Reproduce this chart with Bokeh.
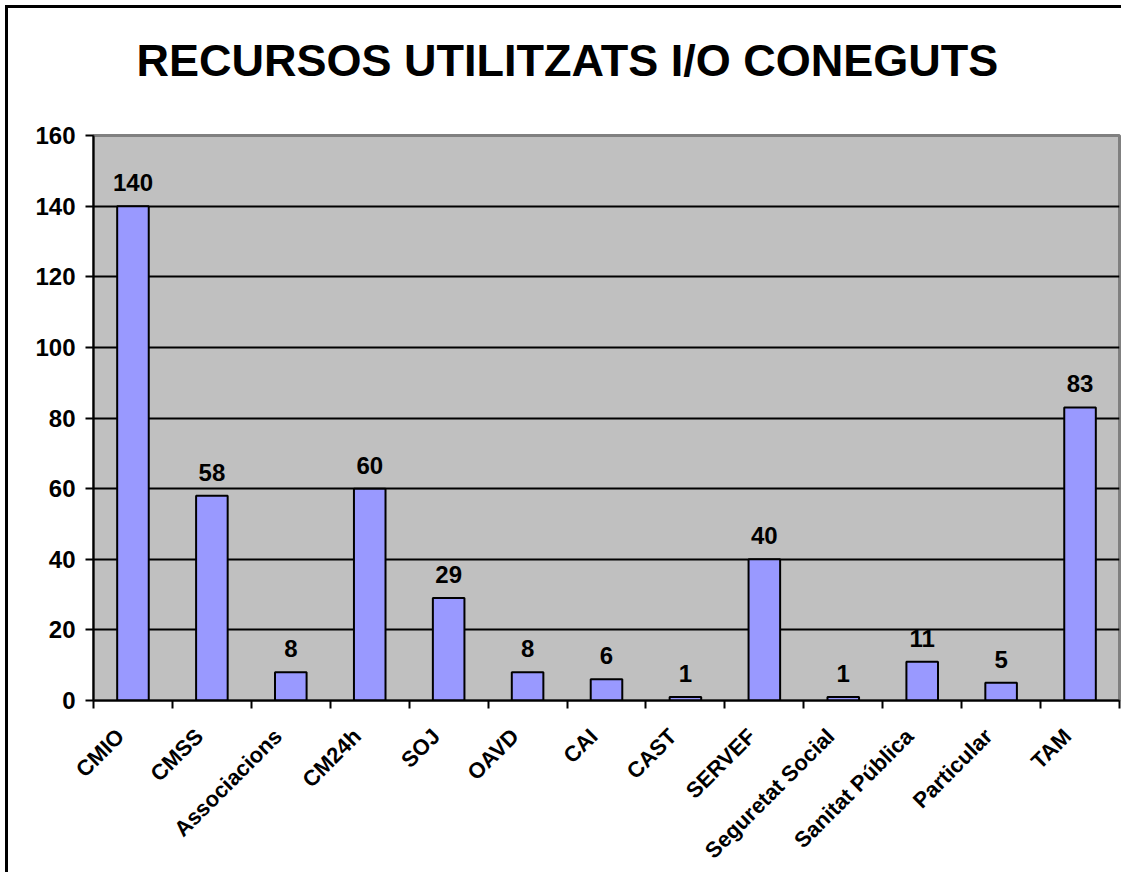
import math
from bokeh.plotting import figure
from bokeh.models import FixedTicker, Title, ColumnDataSource, Range1d
from bokeh.core.properties import value
from bokeh.embed import file_html
from bokeh.resources import INLINE

categories = ["CMIO", "CMSS", "Associacions", "CM24h", "SOJ", "OAVD", "CAI",
              "CAST", "SERVEF", "Seguretat Social", "Sanitat Pública", "Particular", "TAM"]
counts = [140, 58, 8, 60, 29, 8, 6, 1, 40, 1, 11, 5, 83]
y_ticks = [0, 20, 40, 60, 80, 100, 120, 140, 160]
title_text = "RECURSOS UTILITZATS I/O CONEGUTS"

FONT = "Liberation Sans"
FS = "24px"
n = len(categories)
centers = [i + 0.5 for i in range(n)]
label_pos = [c - 0.16 for c in centers]
bounds = [float(i) for i in range(n + 1)]

p = figure(width=1116, height=867, output_backend="svg", toolbar_location=None,
           x_range=Range1d(0, n), y_range=Range1d(0, 160),
           min_border_left=85, min_border_right=5, min_border_top=127, min_border_bottom=169)
p.styles = {"border-left": "3px solid black", "border-top": "3px solid black",
            "margin-left": "5px", "margin-top": "5px"}
p.title = None

p.background_fill_color = "#C0C0C0"
p.border_fill_color = "white"
p.outline_line_color = "#808080"
p.outline_line_width = 3

src = ColumnDataSource(dict(x=centers, top=counts, lab=[str(c) for c in counts]))
p.vbar(x="x", top="top", width=0.4, source=src, fill_color="#9999FF",
       line_color="black", line_width=2)
p.text(x="x", y="top", text="lab", source=src, y_offset=-15,
       text_align="center", text_baseline="bottom",
       text_font=value(FONT), text_font_style="bold", text_font_size=FS, text_color="black")

# y axis
p.yaxis.ticker = FixedTicker(ticks=y_ticks)
p.yaxis.axis_line_color = "black"
p.yaxis.axis_line_width = 2
p.yaxis.major_tick_line_color = "black"
p.yaxis.major_tick_line_width = 2
p.yaxis.major_tick_out = 8
p.yaxis.major_tick_in = 0
p.yaxis.minor_tick_line_color = None
p.yaxis.major_label_standoff = 10
p.yaxis.major_label_text_font = FONT
p.yaxis.major_label_text_font_style = "bold"
p.yaxis.major_label_text_font_size = FS
p.yaxis.major_label_text_color = "black"

# x axis
p.xaxis.ticker = FixedTicker(ticks=label_pos, minor_ticks=bounds)
p.xaxis.major_label_overrides = {c: lab for c, lab in zip(label_pos, categories)}
p.xaxis.major_tick_line_color = None
p.xaxis.minor_tick_line_color = "black"
p.xaxis.minor_tick_line_width = 2
p.xaxis.minor_tick_out = 8
p.xaxis.minor_tick_in = 0
p.xaxis.axis_line_color = "black"
p.xaxis.axis_line_width = 2
p.xaxis.major_label_orientation = math.pi / 4
p.xaxis.major_label_standoff = 24
p.xaxis.major_label_text_font = FONT
p.xaxis.major_label_text_font_style = "bold"
p.xaxis.major_label_text_font_size = "22px"
p.xaxis.major_label_text_color = "black"

p.xgrid.grid_line_color = None
p.ygrid.ticker = FixedTicker(ticks=y_ticks)
p.ygrid.grid_line_color = "black"
p.ygrid.grid_line_width = 2

# spacer between frame and title, then the title itself
p.add_layout(Title(text=" ", text_font_size="1px", standoff=23), "above")
p.add_layout(Title(text=title_text, align="left", offset=43, text_font=FONT,
                   text_font_style="bold", text_font_size="45px", text_color="black",
                   standoff=47), "above")

open("out.html", "w").write(file_html(p, INLINE))
